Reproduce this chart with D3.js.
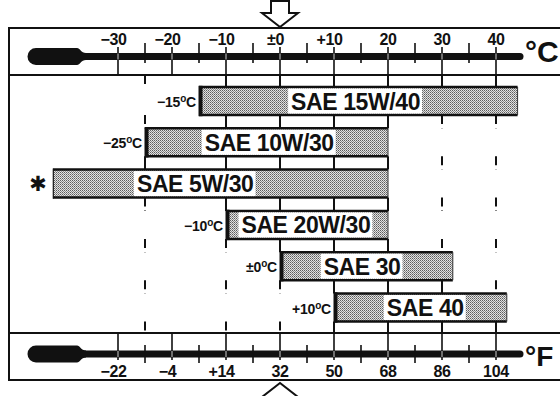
<!DOCTYPE html>
<html><head><meta charset="utf-8">
<script src="https://cdn.jsdelivr.net/npm/d3@7"></script>
<style>html,body{margin:0;padding:0;background:#fff;}svg{display:block;}</style>
</head><body>
<script>
// ---- data ----
const grades      = ["SAE 15W/40","SAE 10W/30","SAE 5W/30","SAE 20W/30","SAE 30","SAE 40"];
const minTemp     = [-15, -25, -42, -10, 0, 10];
const maxTemp     = [44, 20, 20, 20, 32, 42];
const startLabels = ["−15", "−25", null, "−10", "±0", "+10"];
const labelCenter = [14, -2, -15.7, 4.8, 15.2, 26.9];
const celsiusTicks  = [-30,-20,-10,0,10,20,30,40];
const celsiusLabels = ["−30","−20","−10","±0","+10","20","30","40"];
const celsiusMinor  = [-25,-15,-5,5,15,25,35];
const fahrTicks  = [-22,-4,14,32,50,68,86,104];
const fahrLabels = ["−22","−4","+14","32","50","68","86","104"];
const fahrMinor  = [-13,5,23,41,59,77,95];
const guideTemps = [-25,-10,0,10,20,30,40];

const W=560,H=396;
const svg=d3.select("body").append("svg").attr("width",W).attr("height",H);
const FONT="'Liberation Sans', Arial, Helvetica, sans-serif";

const x=d3.scaleLinear().domain([-30,40]).range([118,496]);
const xF=d3.scaleLinear().domain([-22,104]).range([118,496]);
const y=d3.scalePoint().domain(grades).range([101,307.5]);
const barH=28;

const boxL=9, boxT=28, boxB=380, topPanelB=75, botPanelT=333;

// pattern
const defs=svg.append("defs");
const pat=defs.append("pattern").attr("id","stip").attr("width",2).attr("height",2).attr("patternUnits","userSpaceOnUse");
pat.append("rect").attr("width",2).attr("height",2).attr("fill","#e2e2e2");
pat.append("rect").attr("width",1).attr("height",1).attr("fill","#5c5c5c");
pat.append("rect").attr("x",1).attr("y",1).attr("width",1).attr("height",1).attr("fill","#8a8a8a");

// ---- guide lines ----
const rows=[{top:-1e9,bottom:topPanelB,min:-1e9,max:1e9}];
grades.forEach((g,i)=>rows.push({top:y(g)-barH/2,bottom:y(g)+barH/2,min:minTemp[i],max:maxTemp[i]}));
rows.push({top:botPanelT,bottom:1e9,min:-1e9,max:1e9});
const gGuide=svg.append("g");
guideTemps.forEach(t=>{
  for(let i=0;i<rows.length-1;i++){
    const a=rows[i],b=rows[i+1];
    const solid = t>=a.min&&t<=a.max&&t>=b.min&&t<=b.max;
    gGuide.append("line").attr("x1",x(t)).attr("x2",x(t)).attr("y1",a.bottom).attr("y2",b.top)
      .attr("stroke","#111").attr("stroke-width",2)
      .attr("stroke-dasharray",solid?null:"9,4");
  }
});

// ---- frame ----
const frame=svg.append("g").attr("stroke","#111").attr("stroke-width",2);
frame.append("line").attr("x1",boxL).attr("x2",W).attr("y1",boxT).attr("y2",boxT);
frame.append("line").attr("x1",boxL).attr("x2",W).attr("y1",boxB).attr("y2",boxB);
frame.append("line").attr("x1",boxL).attr("x2",boxL).attr("y1",boxT-1).attr("y2",boxB+1);
frame.append("line").attr("x1",boxL).attr("x2",W).attr("y1",topPanelB).attr("y2",topPanelB);
frame.append("line").attr("x1",boxL).attr("x2",W).attr("y1",botPanelT).attr("y2",botPanelT);

// ---- thermometers ----
function thermo(cy){
  const g=svg.append("g");
  g.append("line").attr("x1",84).attr("x2",520).attr("y1",cy).attr("y2",cy)
    .attr("stroke","#111").attr("stroke-width",7).attr("stroke-linecap","round");
  g.append("path").attr("fill","#111")
    .attr("d",`M77,${cy-8.5} L36,${cy-8.5} A8.5,8.5 0 0 0 36,${cy+8.5} L77,${cy+8.5} C80,${cy+8.5} 81,${cy+3.5} 86,${cy+3.5} L86,${cy-3.5} C81,${cy-3.5} 80,${cy-8.5} 77,${cy-8.5} Z`);
  return g;
}
const topCy=56.5, botCy=354;
thermo(topCy); thermo(botCy);

// ticks
const gt=svg.append("g").attr("stroke","#111").attr("stroke-width",1.6);
celsiusTicks.forEach(t=>gt.append("line").attr("x1",x(t)).attr("x2",x(t)).attr("y1",47).attr("y2",topPanelB));
celsiusMinor.forEach(t=>gt.append("line").attr("x1",x(t)).attr("x2",x(t)).attr("y1",43).attr("y2",63));
fahrTicks.forEach(t=>gt.append("line").attr("x1",xF(t)).attr("x2",xF(t)).attr("y1",botPanelT).attr("y2",360));
fahrMinor.forEach(t=>gt.append("line").attr("x1",xF(t)).attr("x2",xF(t)).attr("y1",345).attr("y2",363));
const gs=svg.append("g").attr("stroke","#fff").attr("stroke-width",0.8);
celsiusTicks.forEach(t=>gs.append("line").attr("x1",x(t)).attr("x2",x(t)).attr("y1",topCy-3).attr("y2",topCy+3));
fahrTicks.forEach(t=>gs.append("line").attr("x1",xF(t)).attr("x2",xF(t)).attr("y1",botCy-3).attr("y2",botCy+3));

const signed=s=>/^[−+±]/.test(s);
svg.append("g").selectAll("text").data(celsiusTicks).join("text")
  .attr("x",(d,i)=>x(d)-(signed(celsiusLabels[i])?4.5:0)).attr("y",45)
  .attr("text-anchor","middle").attr("font-family",FONT).attr("font-weight","bold").attr("font-size",16)
  .attr("letter-spacing",-0.3).attr("fill","#111").text((d,i)=>celsiusLabels[i]);
svg.append("g").selectAll("text").data(fahrTicks).join("text")
  .attr("x",(d,i)=>xF(d)-(signed(fahrLabels[i])?4.5:0)).attr("y",377)
  .attr("text-anchor","middle").attr("font-family",FONT).attr("font-weight","bold").attr("font-size",16)
  .attr("letter-spacing",-0.3).attr("fill","#111").text((d,i)=>fahrLabels[i]);

svg.append("text").attr("x",525).attr("y",62).attr("font-family",FONT).attr("font-weight","bold")
  .attr("font-size",30).attr("fill","#111").text("°C");
svg.append("text").attr("x",525).attr("y",366).attr("font-family",FONT).attr("font-weight","bold")
  .attr("font-size",28).attr("fill","#111").text("°F");

// ---- arrows ----
function arrow(tipY,dir){
  const cx=280, triH=14*dir, shaftH=12*dir;
  const by=tipY-triH;
  const d=`M${cx},${tipY} L${cx-18},${by} L${cx-9},${by} L${cx-9},${by-shaftH} L${cx+9},${by-shaftH} L${cx+9},${by} L${cx+18},${by} Z`;
  svg.append("path").attr("d",d).attr("fill","#fff").attr("stroke","#111").attr("stroke-width",2).attr("stroke-linejoin","miter");
}
arrow(27,1);
arrow(383,-1);

// ---- bars ----
const gb=svg.append("g");
grades.forEach((g,i)=>{
  const x0=x(minTemp[i]), x1=x(maxTemp[i]), cy=y(g), t=cy-barH/2, b=cy+barH/2;
  gb.append("rect").attr("x",x0).attr("y",t).attr("width",x1-x0).attr("height",barH).attr("fill","url(#stip)");
  gb.append("line").attr("x1",x0).attr("x2",x1).attr("y1",t).attr("y2",t).attr("stroke","#111").attr("stroke-width",2.5);
  gb.append("line").attr("x1",x0).attr("x2",x1).attr("y1",b).attr("y2",b).attr("stroke","#111").attr("stroke-width",2.5);
  gb.append("line").attr("x1",x1).attr("x2",x1).attr("y1",t).attr("y2",b).attr("stroke","#333").attr("stroke-width",1);
  const lw = startLabels[i]?4:1.2;
  gb.append("line").attr("x1",x0+lw/2-0.5).attr("x2",x0+lw/2-0.5).attr("y1",t-1.2).attr("y2",b+1.2).attr("stroke","#111").attr("stroke-width",lw);
  const tx=gb.append("text").attr("x",x(labelCenter[i])).attr("y",cy+8.5).attr("text-anchor","middle")
    .attr("font-family",FONT).attr("font-weight","bold").attr("font-size",23).attr("letter-spacing",-0.4)
    .attr("fill","#111").text(g);
  const bb=tx.node().getBBox();
  gb.append("rect").attr("x",bb.x-3).attr("y",t+1.5).attr("width",bb.width+5).attr("height",barH-3).attr("fill","#fff");
  tx.raise();
  if(startLabels[i]){
    const st=gb.append("text").attr("x",x0-3).attr("y",cy+6).attr("text-anchor","end")
      .attr("font-family",FONT).attr("font-weight","bold").attr("font-size",14).attr("letter-spacing",-0.2).attr("fill","#111");
    st.append("tspan").text(startLabels[i]);
    st.append("tspan").attr("font-size",10).attr("dy",-5).text("o");
    st.append("tspan").attr("dy",5).text("C");
  } else {
    gb.append("text").attr("x",38).attr("y",cy+7.5).attr("text-anchor","middle")
      .attr("font-family","'DejaVu Sans', sans-serif").attr("font-weight","bold").attr("font-size",21).attr("fill","#111").text("✱");
  }
});
</script>
</body></html>
